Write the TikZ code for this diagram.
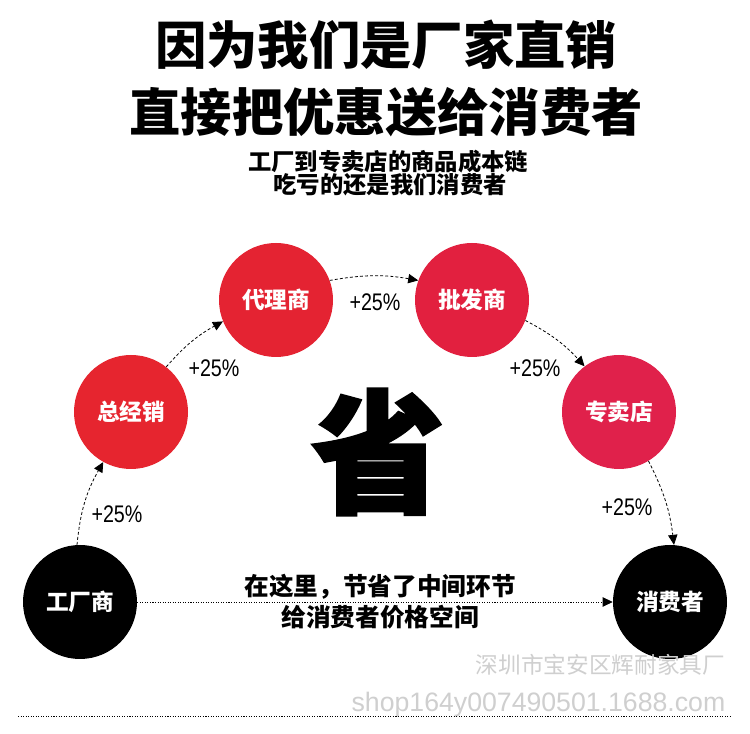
\documentclass[tikz,border=0pt]{standalone}
\usepackage{fontspec}
\usepackage{xcolor}
\usepackage{tikz}
\usetikzlibrary{arrows.meta, positioning}
\newfontfamily\cjk{Noto Sans CJK SC}
\newfontfamily\cjkheavy{Noto Sans CJK SC}[BoldFeatures={FakeBold=2}]
\newfontfamily\pctfont{Liberation Sans}[FakeStretch=0.82]
\newfontfamily\latinfont{Liberation Sans}
\definecolor{RedOne}  {HTML}{E6252F}
\definecolor{RedTwo}  {HTML}{E42332}
\definecolor{RedThree}{HTML}{E2203F}
\definecolor{RedFour} {HTML}{E0214B}
\definecolor{MarkGray}{HTML}{CFCFCF}

\begin{document}
\begin{tikzpicture}[
  x=0.75pt, y=0.75pt,
  every node/.style={font=\cjk},
  stage/.style={circle, minimum size=85.5pt, inner sep=0pt, text=white,
    font=\cjk\bfseries\fontsize{17}{20}\selectfont},
  redstage/.style={stage, fill=#1},
  flow/.style={dash pattern=on 2.2pt off 1.6pt, line width=0.6pt,
    -{Triangle[length=7.5pt, width=7pt]}},
  pct/.style={font=\pctfont\fontsize{18}{20}\selectfont},
]
\useasboundingbox[fill=white] (0,0) rectangle (750,734);

% Headline
\node (head1) at (386,689) {\bfseries\fontsize{38.5}{46}\selectfont 因为我们是厂家直销};
\node (head2) at (386,622) {\bfseries\fontsize{38.5}{46}\selectfont 直接把优惠送给消费者};
\node (sub1)  at (388,572) {\bfseries\fontsize{17.5}{20}\selectfont 工厂到专卖店的商品成本链};
\node (sub2)  at (390,549) {\bfseries\fontsize{17.5}{20}\selectfont 吃亏的还是我们消费者};

% Chain of sellers
\node[stage, fill=black] (factory)  at (80,132)  {工厂商};
\node[redstage=RedOne]   (dist)     at (131,322) {总经销};
\node[redstage=RedTwo]   (agent)    at (276,434) {代理商};
\node[redstage=RedThree] (whole)    at (472,434) {批发商};
\node[redstage=RedFour]  (shop)     at (619,322) {专卖店};
\node[stage, fill=black] (consumer) at (670,132) {消费者};

% Mark-ups along the arc
\draw[flow] (factory.93) to[bend left=12] (dist.241);
\draw[flow] (dist.52)    to[bend left=10] (agent.202);
\draw[flow] (agent.20)   to[bend left=10] (whole.160);
\draw[flow] (whole.339)  to[bend left=10] (shop.127);
\draw[flow] (shop.301)   to[bend left=10] (consumer.86);

\node[pct] (p1) at (117,220) {+25\%};
\node[pct] (p2) at (214,366) {+25\%};
\node[pct] (p3) at (375,432) {+25\%};
\node[pct] (p4) at (535,366) {+25\%};
\node[pct] (p5) at (627,227) {+25\%};

% Big sign in the middle
\node (save) at (378,282) {\cjkheavy\bfseries\fontsize{100}{110}\selectfont 省};

% Direct route
\draw[line width=0.6pt, dash pattern=on 0.8pt off 1.1pt,
  -{Triangle[length=7.5pt, width=7pt]}] (factory.east) -- (consumer.west);
\node (direct1) at (380,147) {\bfseries\fontsize{18.5}{22}\selectfont 在这里，节省了中间环节};
\node (direct2) at (380,117) {\bfseries\fontsize{18.5}{22}\selectfont 给消费者价格空间};

% Watermark
\node[anchor=east, text=MarkGray] (mark1) at (730,69)
  {\fontsize{17}{20}\selectfont 深圳市宝安区辉耐家具厂};
\node[anchor=east, text=MarkGray, font=\latinfont\fontsize{20}{24}\selectfont] (mark2)
  at (730,29) {shop164y007490501.1688.com};

% Rule at the foot
\draw[line width=0.6pt, dash pattern=on 0.8pt off 1.1pt] (18,18) -- (730,18);

\end{tikzpicture}
\end{document}
